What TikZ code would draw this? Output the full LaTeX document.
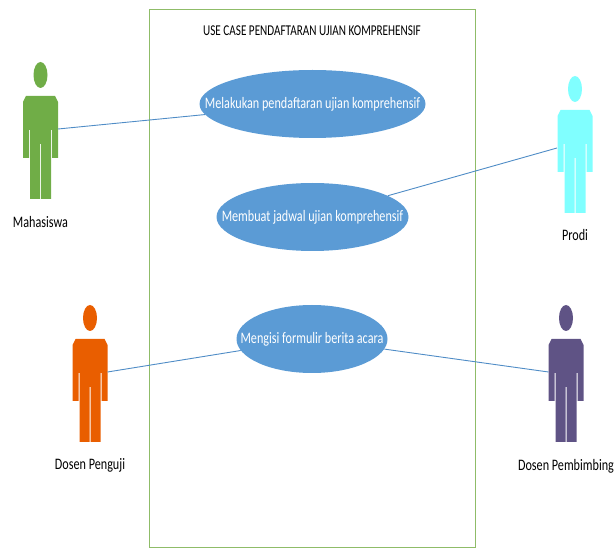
\documentclass[tikz,border=0pt]{standalone}
\usepackage{fontspec}
\setmainfont{Carlito}
\usetikzlibrary{shapes.geometric}
\definecolor{mhsgreen}{HTML}{70AD47}
\definecolor{prodicyan}{HTML}{80FFFF}
\definecolor{pengujiorange}{HTML}{E95E00}
\definecolor{pembimbingpurple}{HTML}{5F5385}
\definecolor{casefill}{HTML}{5B9BD5}
\definecolor{caseline}{HTML}{4F8CC6}
\definecolor{framegreen}{HTML}{8FBC68}
\tikzset{
  usecase/.style={ellipse,fill=casefill,inner sep=0pt,minimum height=68pt,text=white,font=\fontsize{16}{16}\selectfont},
  actorlabel/.style={inner sep=0pt,font=\fontsize{16}{16}\selectfont},
  assoc/.style={draw=caseline,line width=0.9pt}
}
\newcommand{\squeeze}[1]{\scalebox{0.76}[1]{#1}}
\newcommand{\casetext}[1]{\makebox[0pt]{\squeeze{#1}}}

\begin{document}
\begin{tikzpicture}[x=1pt,y=-1pt]
\useasboundingbox (0,0) rectangle (614,548);

% system frame
\draw[framegreen,line width=1pt] (149.5,9.5) rectangle (475.5,547);
\node[inner sep=0pt,font=\fontsize{15}{15}\selectfont] (judul) at (312,31) {\scalebox{0.745}[1]{USE CASE PENDAFTARAN UJIAN KOMPREHENSIF}};

% actors
\foreach \nama/\x/\y/\warna/\teks/\ly in {
  mahasiswa/40.5/62/mhsgreen/Mahasiswa/222,
  prodi/575/76/prodicyan/Prodi/235,
  penguji/90/305/pengujiorange/Dosen Penguji/465,
  pembimbing/566/305/pembimbingpurple/Dosen Pembimbing/466} {
\fill[\warna,shift={(\x,\y)}] (0,13) ellipse [x radius=7,y radius=13];
\fill[\warna,shift={(\x,\y)}] (-14.5,34) -- (14.5,34) -- (17.5,40) -- (17.5,96) -- (11.5,96) -- (11.5,68)
  -- (10.5,68) -- (10.5,137) -- (0.5,137) -- (0.5,82) -- (-0.5,82) -- (-0.5,137) -- (-10.5,137)
  -- (-10.5,68) -- (-11.5,68) -- (-11.5,96) -- (-17.5,96) -- (-17.5,40) -- cycle;
\node[actorlabel] (label\nama) at (\x,\ly) {\squeeze{\teks}};
}

% use cases
\node[usecase,minimum width=226pt] (daftar) at (312.5,104) {\casetext{Melakukan pendaftaran ujian komprehensif}};
\node[usecase,minimum width=192pt] (jadwal) at (312.5,217) {\casetext{Membuat jadwal ujian komprehensif}};
\node[usecase,minimum width=151pt] (berita) at (312,339) {\casetext{Mengisi formulir berita acara}};

% connectors
\coordinate (mahasiswa) at (58,129);
\coordinate (prodi) at (557,148);
\coordinate (penguji) at (107.5,372);
\coordinate (pembimbing) at (548.5,372);
\draw[assoc] (mahasiswa) -- (daftar);
\draw[assoc] (prodi) -- (jadwal);
\draw[assoc] (penguji) -- (berita);
\draw[assoc] (pembimbing) -- (berita);

\end{tikzpicture}
\end{document}
